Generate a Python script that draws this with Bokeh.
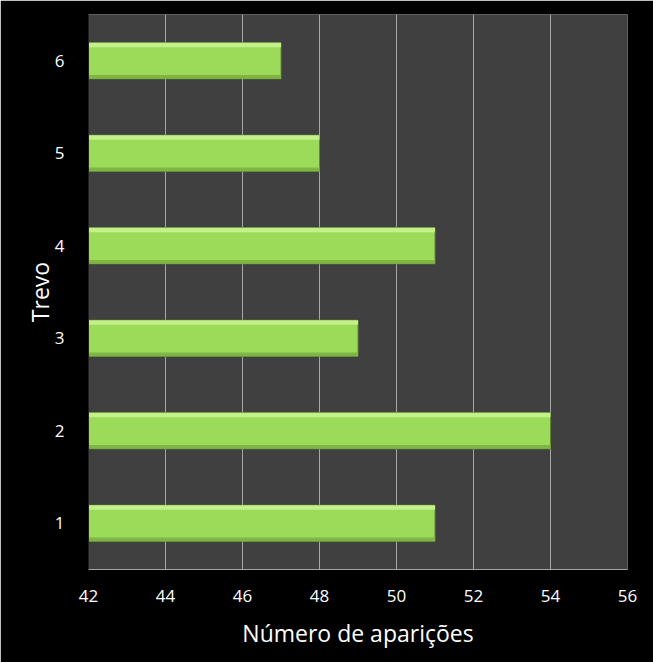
from bokeh.plotting import figure
from bokeh.models import FixedTicker, Range1d, ColumnDataSource
from bokeh.embed import file_html
from bokeh.resources import INLINE

categories = [1, 2, 3, 4, 5, 6]
values = [51, 54, 49, 51, 48, 47]
x_ticks = [42, 44, 46, 48, 50, 52, 54, 56]

x_start = 42
bar_h = 0.39

src = ColumnDataSource(dict(
    y=categories,
    right=values,
    left=[x_start] * len(values),
    y_hi=[c + bar_h / 2 - 0.025 for c in categories],
    y_lo=[c - bar_h / 2 + 0.02 for c in categories],
))

p = figure(width=653, height=662, output_backend="svg", toolbar_location=None,
           x_range=Range1d(42, 56), y_range=Range1d(0.5, 6.5),
           min_border_left=88, min_border_right=26, min_border_top=14, min_border_bottom=93)

p.background_fill_color = "#404040"
p.border_fill_color = "#000000"
p.outline_line_color = None

# main bar
p.hbar(y="y", left="left", right="right", height=bar_h, source=src,
       fill_color="#9cdb5a", line_color="#5f8a30", line_width=1)
# top highlight
p.hbar(y="y_hi", left="left", right="right", height=0.05, source=src,
       fill_color="#c4f08a", line_color=None)
# bottom shade
p.hbar(y="y_lo", left="left", right="right", height=0.04, source=src,
       fill_color="#7fb545", line_color=None)

p.xaxis.ticker = FixedTicker(ticks=x_ticks)
p.yaxis.ticker = FixedTicker(ticks=categories)

p.xgrid.ticker = FixedTicker(ticks=x_ticks)
p.xgrid.grid_line_color = "#a6a6a6"
p.xgrid.grid_line_width = 1
p.ygrid.grid_line_color = None

p.xaxis.axis_label = "Número de aparições"
p.yaxis.axis_label = "Trevo"

for ax in (p.xaxis[0], p.yaxis[0]):
    ax.major_label_text_color = "#ffffff"
    ax.major_label_text_font = "Open Sans"
    ax.major_label_text_font_size = "17px"
    ax.axis_label_text_color = "#ffffff"
    ax.axis_label_text_font = "Open Sans"
    ax.axis_label_text_font_size = "23px"
    ax.axis_label_text_font_style = "normal"
    ax.major_tick_line_color = None
    ax.minor_tick_line_color = None

p.xaxis.axis_line_color = "#a6a6a6"
p.yaxis.axis_line_color = "#202020"
p.xaxis.major_label_standoff = 14
p.xaxis.axis_label_standoff = 12
p.yaxis.major_label_standoff = 18
p.yaxis.axis_label_standoff = -4

open("out.html", "w").write(file_html(p, INLINE))
